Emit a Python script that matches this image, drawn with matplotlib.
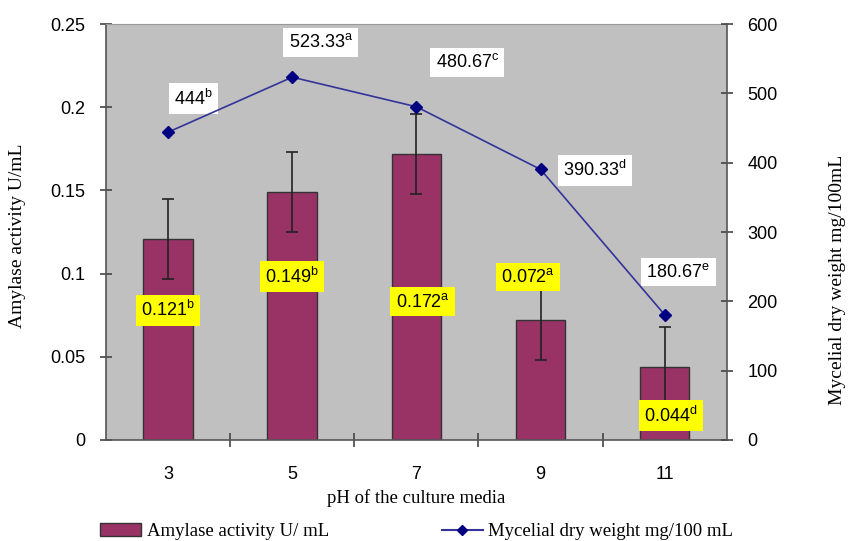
import matplotlib
matplotlib.use("Agg")
import matplotlib.pyplot as plt
from matplotlib.lines import Line2D
from matplotlib.patches import Patch

plt.rcParams['font.family'] = ['Liberation Sans', 'DejaVu Sans']
plt.rcParams['mathtext.fontset'] = 'custom'
plt.rcParams['mathtext.rm'] = 'Liberation Sans'
plt.rcParams['mathtext.it'] = 'Liberation Sans'
plt.rcParams['mathtext.bf'] = 'Liberation Sans:bold'

ph = ['3', '5', '7', '9', '11']
amylase = [0.121, 0.149, 0.172, 0.072, 0.044]
amylase_err = [0.024, 0.024, 0.024, 0.024, 0.024]
amylase_letters = ['b', 'b', 'a', 'a', 'd']
mycelial = [444, 523.33, 480.67, 390.33, 180.67]
mycelial_letters = ['b', 'a', 'c', 'd', 'e']
mycelial_text = ['444', '523.33', '480.67', '390.33', '180.67']
amylase_text = ['0.121', '0.149', '0.172', '0.072', '0.044']

# label positions (x index offset, y in left-axis units)
bar_lab_pos = [(0, 0.078), (1, 0.098), (2.05, 0.083), (2.9, 0.098), (4.05, 0.0147)]
line_lab_pos = [(0.205, 0.205), (1.23, 0.239), (2.41, 0.227), (3.44, 0.162), (4.11, 0.101)]

fig = plt.figure(figsize=(8.48, 5.41), dpi=100)
ax = fig.add_axes([0.125, 0.1867, 0.732, 0.7689])
ax.set_facecolor('#C0C0C0')
x = list(range(len(ph)))
ax.bar(x, amylase, width=0.4, color='#993366', edgecolor='#333333', linewidth=1.0, zorder=2)
ax.errorbar(x, amylase, yerr=amylase_err, fmt='none', ecolor='#222222', elinewidth=1.2,
            capsize=4, capthick=1.2, zorder=3)
ax.set_xlim(-0.5, 4.5)
ax.set_ylim(0, 0.25)
ax.set_yticks([0, 0.05, 0.1, 0.15, 0.2, 0.25])
ax.set_yticklabels(['0', '0.05', '0.1', '0.15', '0.2', '0.25'], fontsize=13)
ax.set_xticks(x)
ax.set_xticklabels(ph, fontsize=13)
ax.tick_params(axis='x', length=0, pad=19)
ax.set_xticks([0.5, 1.5, 2.5, 3.5], minor=True)
ax.tick_params(axis='x', which='minor', length=10, direction='inout', color='#444444', width=1.2)
ax.tick_params(axis='y', length=8, direction='inout', color='#444444', width=1.2, pad=11)
for s in ['left', 'bottom']:
    ax.spines[s].set_color('#555555')
    ax.spines[s].set_linewidth(1.2)
ax.spines['top'].set_color('#999999')
ax.spines['right'].set_visible(False)

ax.set_xlabel('pH of the culture media', fontsize=13.5, family='Liberation Serif')
ax.xaxis.set_label_coords(0.5, -0.118)
ax.set_ylabel('Amylase activity U/mL', fontsize=14, family='Liberation Serif', va='center')
ax.yaxis.set_label_coords(-0.142, 0.49)

ax2 = ax.twinx()
ax2.plot(x, mycelial, color='#333399', linewidth=1.2, marker='D', markersize=6,
         markerfacecolor='#000080', markeredgecolor='#000080', zorder=4)
ax2.set_ylim(0, 600)
ax2.set_yticks([0, 100, 200, 300, 400, 500, 600])
ax2.set_yticklabels(['0', '100', '200', '300', '400', '500', '600'], fontsize=13)
ax2.tick_params(axis='y', length=8, direction='inout', color='#444444', width=1.2, pad=11)
for s in ['left', 'bottom', 'top']:
    ax2.spines[s].set_visible(False)
ax2.spines['right'].set_color('#555555')
ax2.spines['right'].set_linewidth(1.2)
ax2.set_ylabel('Mycelial dry weight mg/100mL', fontsize=14, family='Liberation Serif', va='center')
ax2.yaxis.set_label_coords(1.179, 0.385)

for i, (t, l) in enumerate(zip(amylase_text, amylase_letters)):
    px, py = bar_lab_pos[i]
    ax.text(px, py, t + r'$^{\mathrm{' + l + '}}$', fontsize=13, ha='center', va='center', zorder=6,
            bbox=dict(boxstyle='square,pad=0.3', facecolor='#FFFF00', edgecolor='none'))
for i, (t, l) in enumerate(zip(mycelial_text, mycelial_letters)):
    px, py = line_lab_pos[i]
    ax.text(px, py, t + r'$^{\mathrm{' + l + '}}$', fontsize=13, ha='center', va='center', zorder=6,
            bbox=dict(boxstyle='square,pad=0.3', facecolor='white', edgecolor='none'))

handles = [Patch(facecolor='#993366', edgecolor='#333333', label='Amylase activity U/ mL'),
           Line2D([0], [0], color='#333399', marker='D', markersize=5, markerfacecolor='#000080',
                  markeredgecolor='#000080', label='Mycelial dry weight mg/100 mL')]
fig.legend(handles=handles, loc='lower left', bbox_to_anchor=(0.098, -0.03), ncol=2, frameon=False,
           prop={'family': 'Liberation Serif', 'size': 13.5}, columnspacing=6.0, handlelength=2.2,
           handletextpad=0.3)

fig.savefig('out.png', dpi=100)
